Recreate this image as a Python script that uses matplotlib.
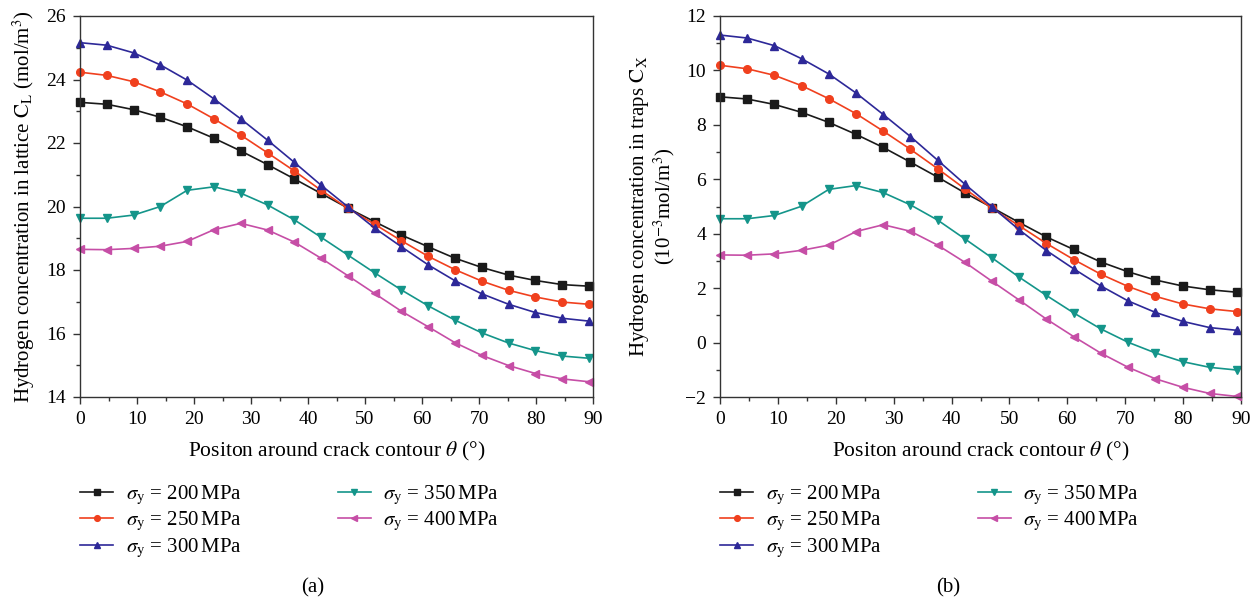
import matplotlib
matplotlib.use("Agg")
import matplotlib.pyplot as plt
from matplotlib.ticker import MultipleLocator

plt.rcParams["font.family"] = ["Liberation Serif", "DejaVu Serif"]
plt.rcParams["mathtext.fontset"] = "stix"
plt.rcParams["font.size"] = 14

# position around crack contour (deg)
theta = [0, 4.7, 9.4, 14.1, 18.8, 23.5, 28.2, 32.9, 37.6, 42.3,
         47.0, 51.7, 56.4, 61.1, 65.8, 70.5, 75.2, 79.9, 84.6, 89.3]

labels = ["200", "250", "300", "350", "400"]

# (a) lattice concentration C_L (mol/m^3)
cl_200 = [23.28, 23.22, 23.05, 22.81, 22.51, 22.15, 21.75, 21.32, 20.87, 20.41,
          19.95, 19.52, 19.10, 18.73, 18.37, 18.08, 17.84, 17.67, 17.54, 17.49]
cl_250 = [24.23, 24.13, 23.93, 23.61, 23.23, 22.76, 22.25, 21.69, 21.12, 20.51,
          19.94, 19.44, 18.92, 18.43, 18.01, 17.65, 17.36, 17.15, 16.99, 16.92]
cl_300 = [25.16, 25.08, 24.84, 24.46, 23.98, 23.39, 22.76, 22.09, 21.39, 20.67,
          19.99, 19.32, 18.73, 18.16, 17.66, 17.25, 16.92, 16.66, 16.48, 16.39]
cl_350 = [19.63, 19.63, 19.73, 20.00, 20.51, 20.62, 20.42, 20.05, 19.58, 19.03,
          18.47, 17.91, 17.37, 16.87, 16.42, 16.02, 15.70, 15.46, 15.29, 15.22]
cl_400 = [18.65, 18.64, 18.68, 18.75, 18.90, 19.27, 19.47, 19.26, 18.88, 18.37,
          17.82, 17.26, 16.70, 16.21, 15.71, 15.31, 14.99, 14.74, 14.57, 14.48]

# (b) trap concentration C_X (1e-3 mol/m^3)
cx_200 = [9.03, 8.95, 8.75, 8.46, 8.09, 7.65, 7.17, 6.63, 6.08, 5.50,
          4.96, 4.41, 3.88, 3.42, 2.96, 2.60, 2.30, 2.08, 1.94, 1.85]
cx_250 = [10.19, 10.06, 9.82, 9.44, 8.96, 8.41, 7.77, 7.10, 6.39, 5.65,
          4.93, 4.29, 3.64, 3.05, 2.51, 2.06, 1.70, 1.42, 1.24, 1.14]
cx_300 = [11.30, 11.19, 10.91, 10.43, 9.87, 9.17, 8.38, 7.57, 6.70, 5.82,
          4.98, 4.14, 3.38, 2.71, 2.08, 1.53, 1.11, 0.78, 0.55, 0.45]
cx_350 = [4.55, 4.55, 4.67, 5.01, 5.63, 5.77, 5.51, 5.06, 4.50, 3.81,
          3.11, 2.40, 1.73, 1.09, 0.50, 0.01, -0.38, -0.70, -0.91, -1.01]
cx_400 = [3.22, 3.21, 3.26, 3.39, 3.58, 4.08, 4.33, 4.09, 3.58, 2.95,
          2.25, 1.56, 0.86, 0.22, -0.39, -0.91, -1.33, -1.64, -1.87, -1.98]

colors = ["#1a1a1a", "#f0401e", "#2d2898", "#14958a", "#c64ea6"]
markers = ["s", "o", "^", "v", "<"]

W, H = 1258, 608
fig = plt.figure(figsize=(W / 100, H / 100), dpi=100)


def px_axes(x0, x1, y0, y1):
    return fig.add_axes([x0 / W, 1 - y1 / H, (x1 - x0) / W, (y1 - y0) / H])


ax_a = px_axes(80, 593, 16, 397)
ax_b = px_axes(720, 1241, 16, 397)

panels = [
    (ax_a, [cl_200, cl_250, cl_300, cl_350, cl_400], (14, 26)),
    (ax_b, [cx_200, cx_250, cx_300, cx_350, cx_400], (-2, 12)),
]

for ax, series, ylim in panels:
    for vals, c, m, lab in zip(series, colors, markers, labels):
        ax.plot(theta, vals, color=c, lw=1.2, marker=m, ms=5.5, mec=c, mfc=c,
                label=r"$\sigma_\mathrm{y}$ = " + lab + r"$\,$MPa", clip_on=False)
    ax.set_xlim(0, 90)
    ax.set_ylim(*ylim)
    ax.xaxis.set_major_locator(MultipleLocator(10))
    ax.xaxis.set_minor_locator(MultipleLocator(5))
    ax.yaxis.set_major_locator(MultipleLocator(2))
    ax.yaxis.set_minor_locator(MultipleLocator(1))
    ax.tick_params(which="major", direction="out", length=5, width=1,
                   color="#333333", labelsize=14, pad=5)
    ax.tick_params(which="minor", direction="out", length=3, width=1, color="#333333")
    for s in ax.spines.values():
        s.set_color("#333333")
        s.set_linewidth(1.0)
    ax.set_xlabel(r"Positon around crack contour $\theta$ (°)", fontsize=15.5, labelpad=9)
    ax.legend(loc="upper left", bbox_to_anchor=(0.0, -0.228), ncol=2,
              frameon=False, fontsize=15, handlelength=1.6, handletextpad=0.6,
              columnspacing=4.6, labelspacing=0.15, borderaxespad=0, borderpad=0,
              markerscale=0.75)

ax_a.set_ylabel(r"Hydrogen concentration in lattice $\mathrm{C_L}$ (mol/m$^3$)",
                fontsize=15, labelpad=7)
ax_b.set_ylabel("Hydrogen concentration in traps $\\mathrm{C_X}$\n(10$^{-3}$mol/m$^3$)",
                fontsize=15, labelpad=6, linespacing=1.0)

fig.text(313 / W, 1 - 588 / H, "(a)", ha="center", va="center", fontsize=15)
fig.text(948 / W, 1 - 588 / H, "(b)", ha="center", va="center", fontsize=15)

fig.savefig("out.png", dpi=100)
